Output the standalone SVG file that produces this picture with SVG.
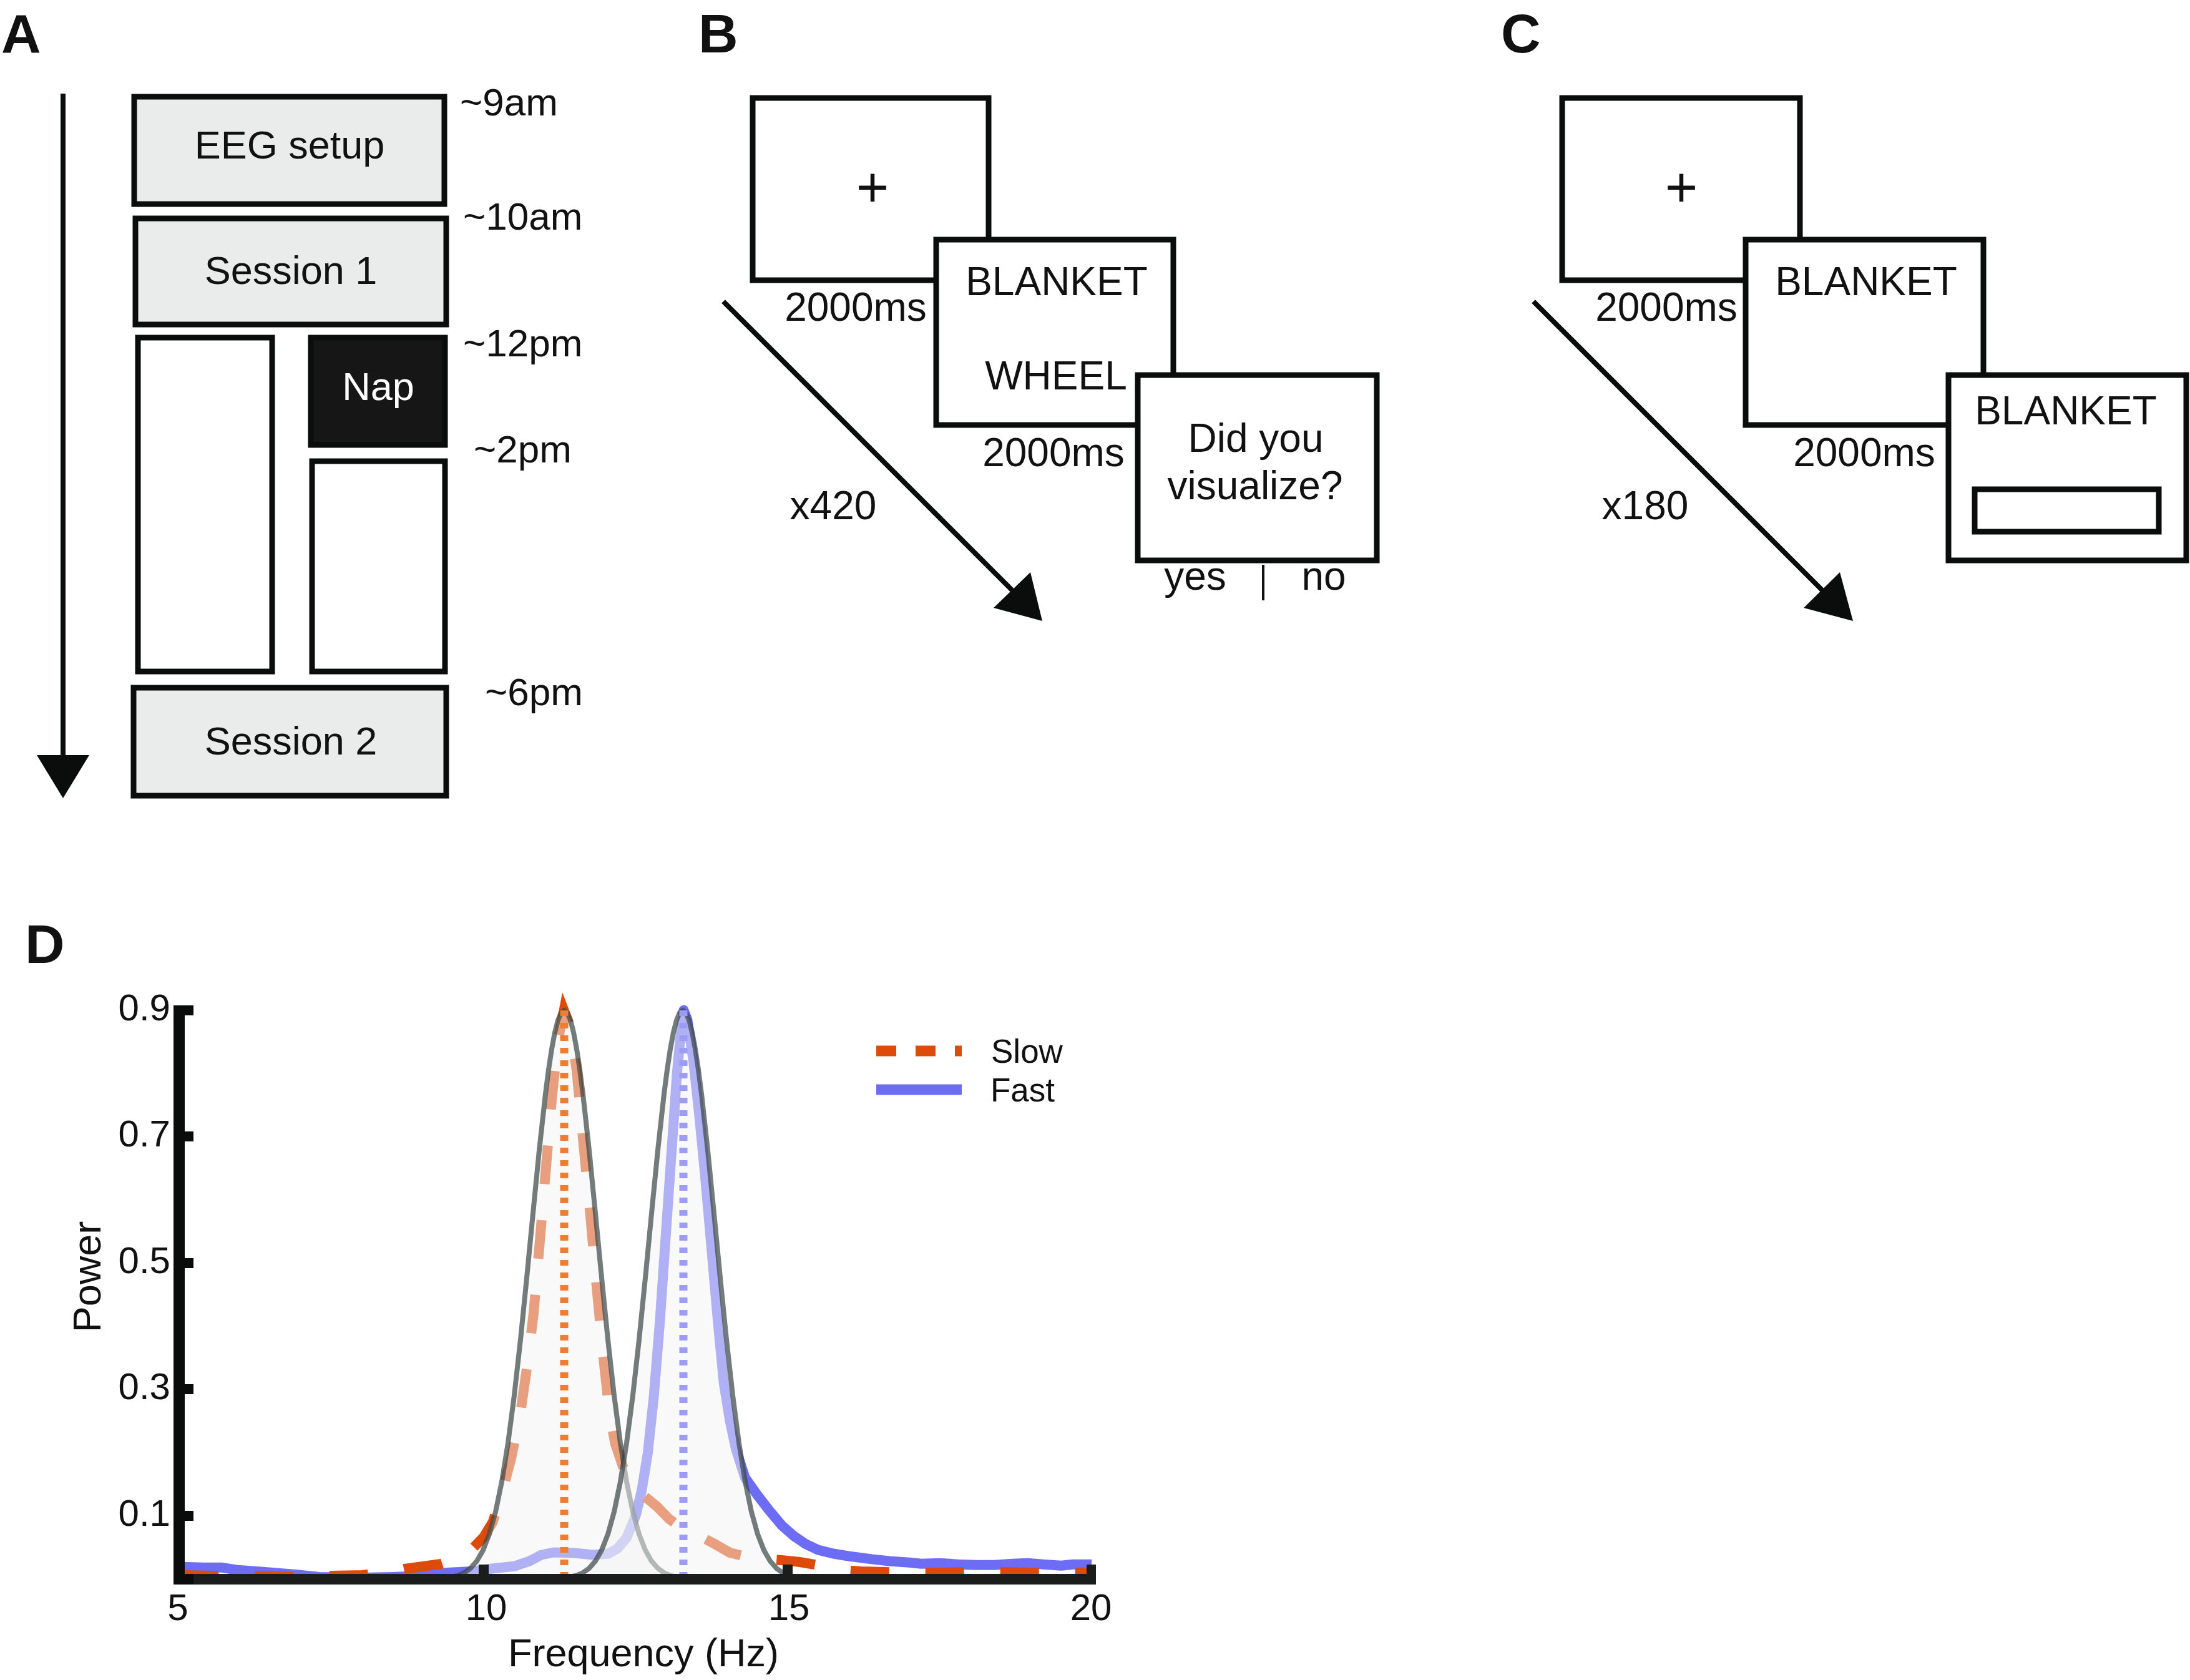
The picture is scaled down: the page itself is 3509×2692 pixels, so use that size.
<svg xmlns="http://www.w3.org/2000/svg" xmlns:xlink="http://www.w3.org/1999/xlink" width="3509" height="2692" viewBox="0 0 3509 2692">
<style>
.t{font-family:'Liberation Sans',Arial,sans-serif;fill:#111}
.lbl{font-family:'Liberation Sans',Arial,sans-serif;font-weight:bold;font-size:88px;fill:#111}
.a{font-size:63px}
.tm{font-size:62px}
.bt{font-size:64px}
.tk{font-size:60px}
.box{fill:#fff;stroke:#0b0c0c;stroke-width:9}
.gbox{fill:#e9ecea;stroke:#0b0c0c;stroke-width:9}
.arr{stroke:#0b0c0c;stroke-width:8;fill:none}
.head{fill:#0b0c0c}
.gfill{fill:#f3f4f3;fill-opacity:0.5;stroke:#3d4a46;stroke-opacity:0.72;stroke-width:8;stroke-linejoin:round}
</style>
<defs>
<path id="gauss" d="M-200,2530 L-200,2529.2 L-190,2528.5 L-180,2527 L-170,2524.5 L-160,2520.1 L-150,2512.9 L-140,2501.4 L-130,2484 L-120,2458.4 L-110,2422.5 L-100,2374.3 L-90,2312.1 L-80,2235.8 L-70,2146.5 L-60,2047.6 L-50,1944.1 L-40,1843.2 L-30,1752.7 L-25,1714 L-20,1680.9 L-15,1654.3 L-10,1634.7 L-5,1622.8 L0,1618.8 L5,1622.8 L10,1634.7 L15,1654.3 L20,1680.9 L25,1714 L30,1752.7 L40,1843.2 L50,1944.1 L60,2047.6 L70,2146.5 L80,2235.8 L90,2312.1 L100,2374.3 L110,2422.5 L120,2458.4 L130,2484 L140,2501.4 L150,2512.9 L160,2520.1 L170,2524.5 L180,2527 L190,2528.5 L200,2529.2 L200,2530 Z"/>
</defs>
<rect width="3509" height="2692" fill="#fff"/>

<!-- Panel labels -->
<text class="lbl" x="2" y="84">A</text>
<text class="lbl" x="1119" y="84">B</text>
<text class="lbl" x="2405" y="84">C</text>
<text class="lbl" x="40" y="1543">D</text>

<!-- Panel A -->
<g id="eeg-setup"><rect class="gbox" x="215" y="155" width="497" height="172"/><text class="t a" x="464" y="254" text-anchor="middle">EEG setup</text></g>
<g id="session-1"><rect class="gbox" x="217" y="350" width="498" height="170"/><text class="t a" x="466" y="455" text-anchor="middle">Session 1</text></g>
<g id="wake-block"><rect class="box" x="221" y="541" width="215" height="535"/></g>
<g id="nap"><rect x="498" y="541" width="215" height="172" fill="#161616" stroke="#0b0c0c" stroke-width="9"/><text class="t a" x="606" y="641" text-anchor="middle" style="fill:#fff">Nap</text></g>
<g id="post-nap"><rect class="box" x="500" y="739" width="213" height="337"/></g>
<g id="session-2"><rect class="gbox" x="214" y="1102" width="501" height="173"/><text class="t a" x="466" y="1209" text-anchor="middle">Session 2</text></g>
<g id="times">
<text class="t tm" x="737" y="185">~9am</text>
<text class="t tm" x="742" y="368">~10am</text>
<text class="t tm" x="742" y="571">~12pm</text>
<text class="t tm" x="759" y="741">~2pm</text>
<text class="t tm" x="777" y="1130">~6pm</text>
</g>

<!-- Panel B -->
<g id="b-fixation"><rect class="box" x="1206" y="157" width="378" height="292"/><text class="t" x="1398" y="331" text-anchor="middle" font-size="90">+</text></g>
<g id="b-words"><rect class="box" x="1500" y="384" width="380" height="297"/><text class="t bt" x="1693" y="473" text-anchor="middle">BLANKET</text><text class="t bt" x="1692" y="624" text-anchor="middle">WHEEL</text></g>
<g id="b-question"><rect class="box" x="1823" y="601" width="383" height="297"/><text class="t bt" x="2012" y="724" text-anchor="middle">Did you</text><text class="t bt" x="2011" y="800" text-anchor="middle">visualize?</text></g>
<g id="b-labels">
<text class="t bt" x="1371" y="514" text-anchor="middle">2000ms</text>
<text class="t bt" x="1688" y="747" text-anchor="middle">2000ms</text>
<text class="t bt" x="1915" y="945" text-anchor="middle">yes</text>
<text class="t bt" x="2121" y="945" text-anchor="middle">no</text>
<line x1="2024" y1="905" x2="2024" y2="962" stroke="#111" stroke-width="4"/>
<text class="t bt" x="1335" y="832" text-anchor="middle">x420</text>
</g>

<!-- Panel C -->
<g id="c-fixation"><rect class="box" x="2503" y="157" width="381" height="292"/><text class="t" x="2694" y="331" text-anchor="middle" font-size="90">+</text></g>
<g id="c-cue"><rect class="box" x="2797" y="384" width="381" height="297"/><text class="t bt" x="2990" y="473" text-anchor="middle">BLANKET</text></g>
<g id="c-response"><rect class="box" x="3122" y="601" width="381" height="297"/><text class="t bt" x="3310" y="680" text-anchor="middle">BLANKET</text><rect class="box" x="3164" y="784" width="295" height="68"/></g>
<g id="c-labels">
<text class="t bt" x="2670" y="514" text-anchor="middle">2000ms</text>
<text class="t bt" x="2987" y="747" text-anchor="middle">2000ms</text>
<text class="t bt" x="2636" y="832" text-anchor="middle">x180</text>
</g>

<!-- Connectors (arrows) -->
<g id="connectors">
<line class="arr" x1="101" y1="150" x2="101" y2="1215"/>
<polygon class="head" points="59,1210 143,1210 101,1279"/>
<line class="arr" x1="1159" y1="483" x2="1625" y2="949"/>
<polygon class="head" points="1592,974 1651,917 1670,995"/>
<line class="arr" x1="2457" y1="483" x2="2922" y2="948"/>
<polygon class="head" points="2890,974 2948,917 2969,995"/>
</g>

<!-- Panel D -->
<g id="plot">
<polyline fill="none" stroke="#6c6cf4" stroke-width="16" stroke-linejoin="round" points="288,2510.8 327,2511.8 356.2,2511.8 380.5,2515.8 424.4,2518.9 473.1,2522.9 512,2527 580.2,2528 628.9,2527 677.6,2525 716.6,2519.9 755.5,2517.9 794.5,2512.8 823.7,2509.8 848.1,2501.7 867.5,2491.5 887,2487.5 921.1,2488.5 950.3,2491.5 974.7,2489.5 989.3,2481.4 1003.9,2464.2 1018.5,2428.8 1028.2,2388.3 1038,2327.5 1047.7,2236.4 1057.5,2114.9 1067.2,1973.1 1077,1831.4 1084.7,1720 1091.5,1649.1 1095.4,1618.8 1101.3,1634 1111,1699.8 1120.8,1790.9 1130.5,1892.1 1140.3,2003.5 1150,2114.9 1159.7,2216.1 1169.5,2276.9 1179.2,2322.4 1193.8,2368 1213.3,2395.3 1232.8,2420.6 1252.3,2443.9 1271.7,2461.1 1291.2,2474.3 1310.7,2483.4 1335.1,2489.5 1359.4,2493.5 1398.4,2498.6 1427.6,2501.7 1456.8,2503.7 1476.3,2505.7 1505.5,2504.7 1534.7,2506.7 1563.9,2507.7 1593.2,2507.7 1622.4,2505.7 1646.7,2504.7 1671.1,2506.7 1700.3,2508.7 1719.8,2506.7 1749,2506.7"/>
<polyline fill="none" stroke="#dd4b0b" stroke-width="16" stroke-dasharray="62 58" points="288,2524 336.7,2525 385.4,2526 434.1,2526 482.8,2527 531.5,2525 580.2,2524 619.2,2520 648.4,2514 677.6,2510 706.8,2506 731.2,2498 755.5,2483 775,2463 789.6,2439 804.2,2393 818.8,2338 833.4,2267 845.1,2186 854.9,2105 864.6,1993 874.3,1877 884.1,1761 893.8,1669 903.6,1619 913.3,1644 924,1715 934.7,1831 946.4,1953 956.2,2064 965.9,2166 975.6,2257 985.4,2312 999,2353 1013.6,2378 1033.1,2398 1052.6,2414 1072.1,2434 1096.4,2451 1120.8,2461 1145.1,2474 1169.5,2488 1193.8,2494 1223,2498 1252.3,2500 1281.5,2503 1310.7,2508 1339.9,2515 1378.9,2518 1417.8,2519 1456.8,2520 1505.5,2520 1554.2,2519 1602.9,2519 1651.6,2520 1700.3,2520 1749,2520"/>
<use xlink:href="#gauss" href="#gauss" class="gfill" transform="translate(904,0)"/>
<use xlink:href="#gauss" href="#gauss" class="gfill" transform="translate(1094,0)"/>
<line x1="904" y1="1619" x2="904" y2="2530" stroke="#ee7d32" stroke-width="13" stroke-dasharray="9 11"/>
<line x1="1095" y1="1619" x2="1095" y2="2530" stroke="#9c9cf7" stroke-width="13" stroke-dasharray="9 11"/>
<!-- axes -->
<line x1="278" y1="2530.5" x2="1756" y2="2530.5" stroke="#1b1d1d" stroke-width="17"/>
<line x1="287" y1="1611" x2="287" y2="2539" stroke="#0a0c0b" stroke-width="18"/>
<g fill="#0a0c0b">
<rect x="296" y="1611" width="14" height="16"/>
<rect x="296" y="1813" width="14" height="16"/>
<rect x="296" y="2016" width="14" height="16"/>
<rect x="296" y="2218" width="14" height="16"/>
<rect x="296" y="2421" width="14" height="16"/>
<rect x="296" y="2522" width="14" height="17"/>
</g>
<g fill="#1b1d1d">
<rect x="767" y="2507" width="16" height="16"/>
<rect x="1254" y="2507" width="16" height="16"/>
<rect x="1741" y="2507" width="15" height="16"/>
</g>
<g class="t tk" text-anchor="end">
<text x="273" y="1635">0.9</text>
<text x="273" y="1837">0.7</text>
<text x="273" y="2040">0.5</text>
<text x="273" y="2242">0.3</text>
<text x="273" y="2445">0.1</text>
</g>
<g class="t tk" text-anchor="middle">
<text x="285" y="2596">5</text>
<text x="779" y="2596">10</text>
<text x="1264" y="2596">15</text>
<text x="1748" y="2596">20</text>
</g>
<text class="t" font-size="63" x="1031" y="2670" text-anchor="middle">Frequency (Hz)</text>
<text class="t" font-size="63" transform="translate(161,2046) rotate(-90)" text-anchor="middle">Power</text>
</g>
<g id="legend">
<line x1="1404" y1="1684" x2="1541" y2="1684" stroke="#dd4b0b" stroke-width="17" stroke-dasharray="32 31"/>
<line x1="1404" y1="1746" x2="1541" y2="1746" stroke="#6c6cf4" stroke-width="17"/>
<text class="t" font-size="53" x="1588" y="1703">Slow</text>
<text class="t" font-size="53" x="1587" y="1765">Fast</text>
</g>
</svg>
